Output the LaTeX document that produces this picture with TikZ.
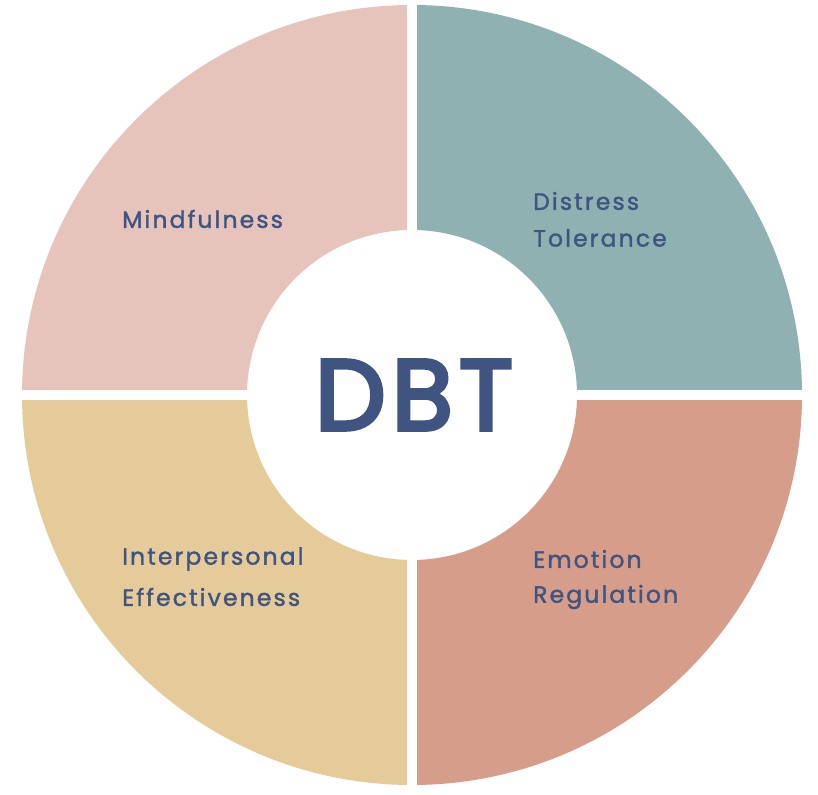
\documentclass[tikz,border=0pt]{standalone}
\usepackage{fontspec}
\setmainfont{Poppins}
\definecolor{pinkq}{HTML}{E6C4BC}
\definecolor{tealq}{HTML}{90B1B1}
\definecolor{yellq}{HTML}{E5CB99}
\definecolor{salmq}{HTML}{D69E8A}
\definecolor{txt}{HTML}{3F5480}
\begin{document}
\begin{tikzpicture}[x=1pt,y=1pt,
  lbl/.style={anchor=west,text=txt,font=\fontsize{23.5}{26}\selectfont\addfontfeatures{LetterSpace=9,FakeBold=1.5},inner sep=0pt}]
\useasboundingbox (0,0) rectangle (818,794);
\fill[white] (0,0) rectangle (818,794);
\coordinate (c) at (412,399);
\fill[pinkq] (c) ++(180:390) arc[start angle=180,end angle=90,radius=390] -- ++(0,-225) arc[start angle=90,end angle=180,radius=165] -- cycle;
\fill[tealq] (c) ++(90:390) arc[start angle=90,end angle=0,radius=390] -- ++(-225,0) arc[start angle=0,end angle=90,radius=165] -- cycle;
\fill[salmq] (c) ++(0:390) arc[start angle=0,end angle=-90,radius=390] -- ++(0,225) arc[start angle=-90,end angle=0,radius=165] -- cycle;
\fill[yellq] (c) ++(-90:390) arc[start angle=-90,end angle=-180,radius=390] -- ++(225,0) arc[start angle=-180,end angle=-90,radius=165] -- cycle;
\fill[white] (407,0) rectangle (417,794);
\fill[white] (0,394) rectangle (818,404);
\node[lbl] (m) at (122,575) {Mindfulness};
\node[lbl] (d1) at (533,593) {Distress};
\node[lbl] (d2) at (533,556) {Tolerance};
\node[lbl] (i1) at (122,235) {Interpersonal};
\node[lbl] (i2) at (122,197) {Effectiveness};
\node[lbl] (e1) at (533,235) {Emotion};
\node[lbl] (e2) at (533,197) {Regulation};
\node[text=txt,font=\fontsize{100}{110}\selectfont\addfontfeatures{LetterSpace=6,FakeBold=4},inner sep=0pt] (dbt) at (414,399) {DBT};
\end{tikzpicture}
\end{document}
